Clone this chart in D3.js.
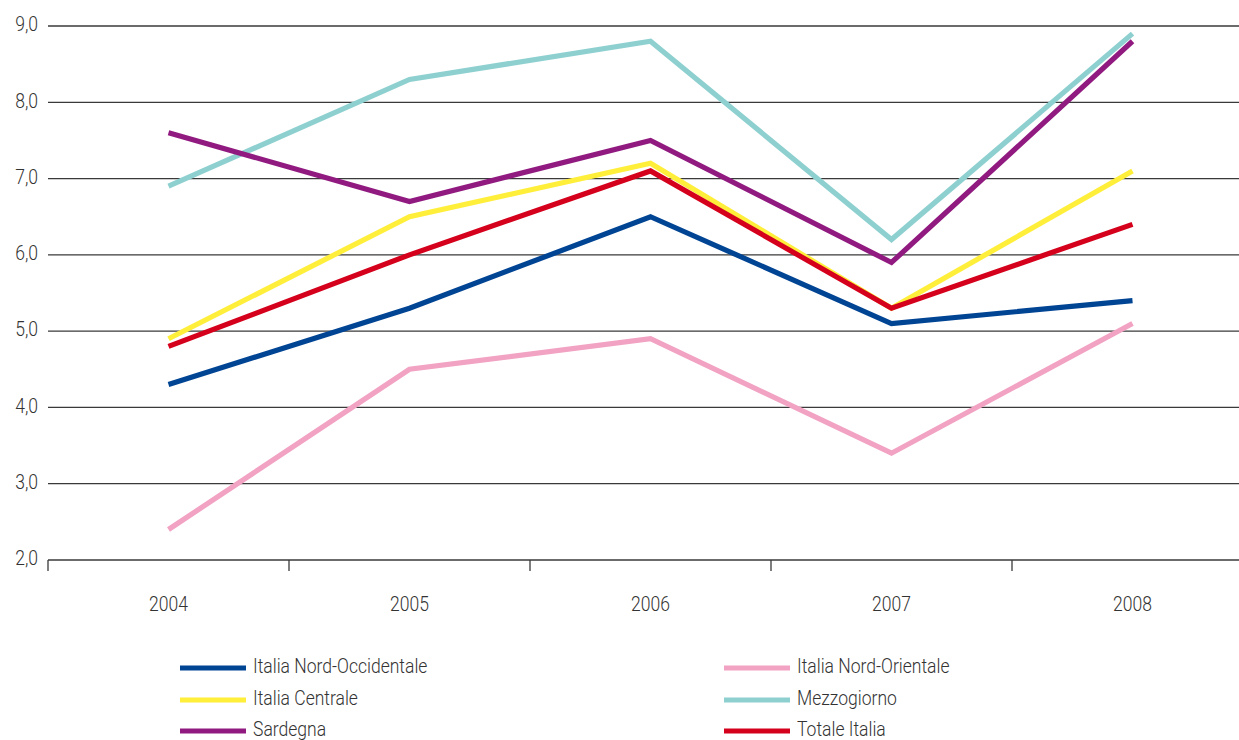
<!DOCTYPE html>
<html>
<head>
<meta charset="utf-8">
<script src="https://cdn.jsdelivr.net/npm/d3@7"></script>
<style>
  html, body { margin: 0; padding: 0; background: #fff; }
  svg { display: block; }
  text { font-family: "Roboto", "Liberation Sans", sans-serif; fill: #333; font-weight: 300; }
</style>
</head>
<body>
<svg id="chart" width="1239" height="740"></svg>
<script>
const years = ["2004", "2005", "2006", "2007", "2008"];
const yTicks = [2, 3, 4, 5, 6, 7, 8, 9];
const seriesNames = ["Italia Nord-Occidentale", "Italia Nord-Orientale", "Italia Centrale", "Mezzogiorno", "Sardegna", "Totale Italia"];
const seriesColors = ["#004494", "#f2a2c2", "#ffee3a", "#8ed0d0", "#911a80", "#d5001c"];
const nordOccidentale = [4.3, 5.3, 6.5, 5.1, 5.4];
const nordOrientale = [2.4, 4.5, 4.9, 3.4, 5.1];
const centrale = [4.9, 6.5, 7.2, 5.3, 7.1];
const mezzogiorno = [6.9, 8.3, 8.8, 6.2, 8.9];
const sardegna = [7.6, 6.7, 7.5, 5.9, 8.8];
const totale = [4.8, 6.0, 7.1, 5.3, 6.4];
const seriesValues = [nordOccidentale, nordOrientale, centrale, mezzogiorno, sardegna, totale];

const svg = d3.select("#chart");
const mLeft = 48, mRight = 1239, mTop = 26, mBottom = 560;
const narrow = 0.877, fs = 20;

const x = d3.scaleBand().domain(years).range([mLeft, mLeft + 5 * 241]);
const y = d3.scaleLinear().domain([2, 9]).range([mBottom, mTop]);

// gridlines
svg.append("g").selectAll("line").data(yTicks.filter(d => d > 2)).join("line")
  .attr("x1", mLeft).attr("x2", mRight)
  .attr("y1", d => y(d)).attr("y2", d => y(d))
  .attr("stroke", "#3a3a3a").attr("stroke-width", 1.3);

// y labels
svg.append("g").selectAll("text").data(yTicks).join("text")
  .attr("transform", d => `translate(38,${y(d)}) scale(${narrow},1)`)
  .attr("text-anchor", "end").attr("dominant-baseline", "middle")
  .attr("font-size", fs)
  .text(d => d.toFixed(1).replace(".", ","));

// x axis
const xAxis = svg.append("g").attr("transform", `translate(0,${mBottom})`)
  .call(d3.axisBottom(x).tickSize(0).tickPadding(37));
xAxis.select(".domain").remove();
xAxis.selectAll("text").attr("font-size", fs).attr("font-family", null).attr("fill", "#333")
  .attr("transform", `scale(${narrow},1)`);
svg.append("line").attr("x1", mLeft).attr("x2", mRight).attr("y1", mBottom).attr("y2", mBottom)
  .attr("stroke", "#3a3a3a").attr("stroke-width", 1.3);
svg.append("g").selectAll("line").data(years).join("line")
  .attr("x1", d => x(d)).attr("x2", d => x(d))
  .attr("y1", mBottom).attr("y2", mBottom + 11)
  .attr("stroke", "#3a3a3a").attr("stroke-width", 1.3);

// lines
const line = d3.line().x((d, i) => x(years[i]) + x.bandwidth() / 2).y(d => y(d));
svg.append("g").selectAll("path").data(seriesValues).join("path")
  .attr("d", d => line(d))
  .attr("fill", "none")
  .attr("stroke", (d, i) => seriesColors[i])
  .attr("stroke-width", 5.2)
  .attr("stroke-linejoin", "miter");

// legend
const legendPos = [[180, 668], [724, 668], [180, 700], [724, 700], [180, 731], [724, 731]];
const lg = svg.append("g").selectAll("g").data(seriesNames).join("g")
  .attr("transform", (d, i) => `translate(${legendPos[i][0]},${legendPos[i][1]})`);
lg.append("line").attr("x1", 0).attr("x2", 66).attr("y1", 0).attr("y2", 0)
  .attr("stroke", (d, i) => seriesColors[i]).attr("stroke-width", 5);
lg.append("text").attr("transform", `translate(73,0) scale(${narrow},1)`)
  .attr("dominant-baseline", "middle")
  .attr("font-size", fs).text(d => d);
</script>
</body>
</html>
